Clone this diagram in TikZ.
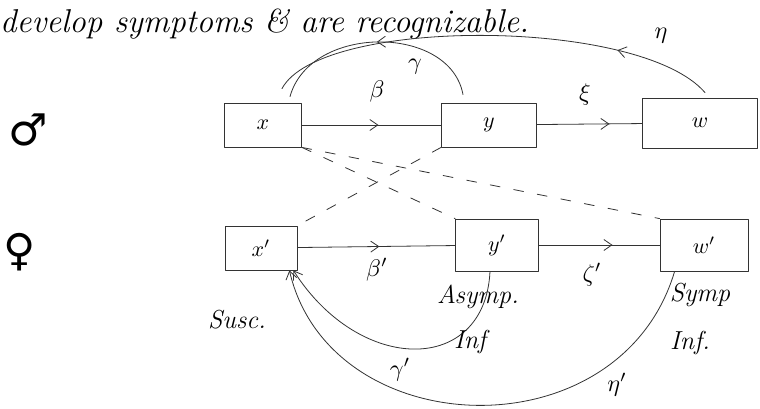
\documentclass[tikz,border=0pt]{standalone}
\usepackage{fontspec}
\newfontfamily\symfont{DejaVu Sans}
\usetikzlibrary{arrows.meta,decorations.markings}

\begin{document}
\begin{tikzpicture}[x=1pt, y=-1pt, line join = round, line cap = round,
  >={Straight Barb[length=8pt,width=11pt]},
  pen/.style={draw=black!80, line width=.8pt},
  cell/.style={pen, minimum height=44pt, inner sep=0pt},
  lbl/.style={scale=2.4, inner sep=0pt},
  note/.style={font=\fontsize{26}{30}\selectfont\itshape, inner sep=0pt},
  midarrow/.style={postaction={decorate}, decoration={markings, mark=at position #1 with {\arrow{>}}}},
  link/.style={pen, dash pattern=on 10pt off 14pt}]
\useasboundingbox (0,0) rectangle (760,409);
\node[note, anchor=west, font=\fontsize{33}{40}\selectfont\itshape] (head) at (0,24) {develop symptoms \& are recognizable.};
\node[font=\symfont\fontsize{44}{48}\selectfont] (male) at (28,130) {♂};
\node[font=\symfont\fontsize{44}{48}\selectfont] (female) at (20,252) {♀};
% compartments
\node[cell, minimum width=77pt] (x) at (263,125) {\scalebox{2.2}{$x$}};
\node[cell, minimum width=95pt] (y) at (489,125) {\scalebox{2.2}{$y$}};
\node[cell, minimum width=115pt, minimum height=50pt] (w) at (700,123) {\scalebox{2.2}{$w$}};
\node[cell, minimum width=72pt] (xp) at (261,248) {\scalebox{2.2}{$x'$}};
\node[cell, minimum width=83pt, minimum height=52pt] (yp) at (497,245) {\scalebox{2.2}{$y'$}};
\node[cell, minimum width=88pt, minimum height=52pt] (wp) at (704,245) {\scalebox{2.2}{$w'$}};
% flows
\draw[pen, midarrow=.55] (x) -- (y);
\draw[pen, midarrow=.69] (y) -- (w);
\draw[pen, midarrow=.52] (xp) -- (yp);
\draw[pen, midarrow=.61] (yp) -- (wp);
\draw[pen, midarrow=.5] ([xshift=-26pt,yshift=8pt]y.north) .. controls (450,24) and (310,24) .. ([xshift=27pt,yshift=6pt]x.north);
\draw[pen, midarrow=.22] ([xshift=5pt,yshift=5pt]w.north) .. controls (640,17) and (320,17) .. ([xshift=19pt,yshift=14pt]x.north);
\draw[pen, ->] ([xshift=-7pt]yp.south) .. controls (485,375) and (360,375) .. ([xshift=-4pt]xp.south east);
\draw[pen, ->] ([xshift=15pt]wp.south west) .. controls (620,455) and (330,445) .. ([xshift=-8pt]xp.south east);
% cross links
\draw[link] (x.south east) -- (yp.north west);
\draw[link] (x.south east) -- (wp.north west);
\draw[link] (y.south west) -- (xp.north east);
% rates
\node[lbl] (beta) at (377,92) {$\beta$};
\node[lbl] (gamma) at (415,67) {$\gamma$};
\node[lbl] (xi) at (585,95) {$\xi$};
\node[lbl] (eta) at (661,36) {$\eta$};
\node[lbl] (betap) at (377,270) {$\beta'$};
\node[lbl] (zetap) at (592,275) {$\zeta'$};
\node[lbl] (gammap) at (400,370) {$\gamma'$};
\node[lbl] (etap) at (617,385) {$\eta'$};
% states
\node[note] (susc) at (237,320) {Susc.};
\node[note] (asymp) at (478,297) {Asymp.};
\node[note] (ainf) at (470,342) {Inf};
\node[note] (symp) at (700,295) {Symp};
\node[note] (sinf) at (690,343) {Inf.};
\end{tikzpicture}
\end{document}
